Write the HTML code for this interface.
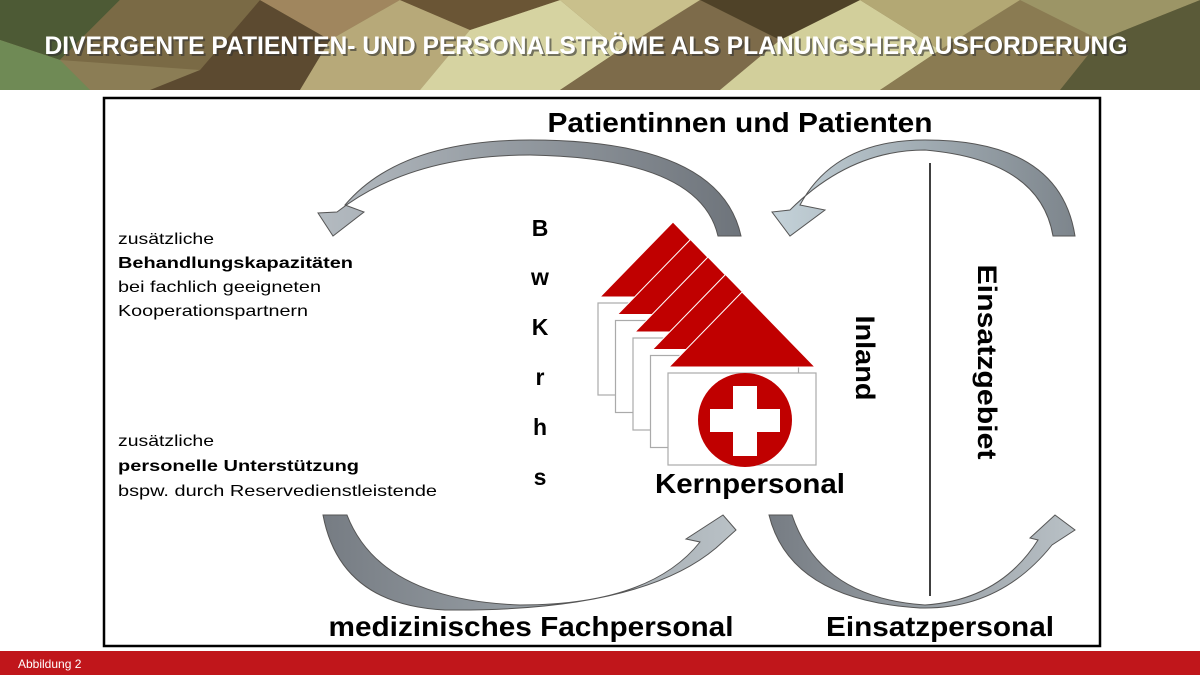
<!DOCTYPE html>
<html><head><meta charset="utf-8"><style>
body{margin:0;width:1200px;height:675px;overflow:hidden;background:#fff;font-family:"Liberation Sans",sans-serif}
</style></head><body>
<svg width="1200" height="675" viewBox="0 0 1200 675" xmlns="http://www.w3.org/2000/svg" font-family="Liberation Sans, sans-serif">
<defs>
<linearGradient id="g1" x1="1" y1="0" x2="0" y2="0"><stop offset="0" stop-color="#6e747b"/><stop offset="1" stop-color="#b4bbc1"/></linearGradient>
<linearGradient id="g2" x1="0" y1="0" x2="1" y2="0"><stop offset="0" stop-color="#c4d2d9"/><stop offset="1" stop-color="#7d858c"/></linearGradient>
<linearGradient id="g3" x1="0" y1="0" x2="1" y2="0"><stop offset="0" stop-color="#767c83"/><stop offset="1" stop-color="#b9c1c6"/></linearGradient>
</defs>
<rect x="0" y="0" width="1200" height="90" fill="#8b7d55"/>
<polygon points="0,0 120,0 60,60 0,40" fill="#4d5a35"/>
<polygon points="0,40 60,60 90,90 0,90" fill="#6f8a55"/>
<polygon points="120,0 260,0 200,70 60,60" fill="#7a6a45"/>
<polygon points="200,70 260,0 330,40 300,90 150,90" fill="#5c4a30"/>
<polygon points="260,0 400,0 330,40" fill="#a0865e"/>
<polygon points="330,40 400,0 470,30 420,90 300,90" fill="#b7a979"/>
<polygon points="470,30 560,0 620,50 560,90 420,90" fill="#d6d3a1"/>
<polygon points="400,0 560,0 470,30" fill="#6a5535"/>
<polygon points="620,50 700,0 780,40 720,90 560,90" fill="#7d6b4a"/>
<polygon points="560,0 700,0 620,50" fill="#c9c08c"/>
<polygon points="780,40 860,0 940,50 880,90 720,90" fill="#d2cf9b"/>
<polygon points="700,0 860,0 780,40" fill="#4f4228"/>
<polygon points="940,50 1020,0 1100,40 1060,90 880,90" fill="#8a7b52"/>
<polygon points="860,0 1020,0 940,50" fill="#b3a874"/>
<polygon points="1100,40 1200,0 1200,90 1060,90" fill="#5a5a38"/>
<polygon points="1020,0 1200,0 1100,40" fill="#9c9566"/>
<text x="588" y="56" text-anchor="middle" font-size="25" font-weight="bold" fill="#333" opacity="0.6" textLength="1083" lengthAdjust="spacingAndGlyphs">DIVERGENTE PATIENTEN- UND PERSONALSTRÖME ALS PLANUNGSHERAUSFORDERUNG</text>
<text x="586" y="54" text-anchor="middle" font-size="25" font-weight="bold" fill="#fff" textLength="1083" lengthAdjust="spacingAndGlyphs">DIVERGENTE PATIENTEN- UND PERSONALSTRÖME ALS PLANUNGSHERAUSFORDERUNG</text>
<rect x="104" y="98" width="996" height="548" fill="#fff" stroke="#000" stroke-width="2.5"/>
<rect x="0" y="651" width="1200" height="24" fill="#c0161b"/>
<text x="18" y="668" font-size="12" fill="#fff">Abbildung 2</text>
<path d="M741,236 Q720,140 530,140 Q400,140 345,205 L364,212 L333,236 L318,213 L337,212 Q410,155 530,155 Q700,158 718,236 Z" fill="url(#g1)" stroke="#555" stroke-width="1"/>
<path d="M1075,236 Q1060,140 925,140 Q835,140 800,205 L825,210 L790,236 L772,212 L790,210 Q850,150 925,150 Q1040,160 1053,236 Z" fill="url(#g2)" stroke="#555" stroke-width="1"/>
<path d="M323,515 L347,515 Q380,600 520,605 Q650,605 700,542 L686,539 L723,515 L736,530 L716,548 Q640,612 445,610 Q340,605 323,515 Z" fill="url(#g3)" stroke="#555" stroke-width="1"/>
<path d="M769,515 L792,515 Q820,598 925,605 Q1000,600 1038,540 L1030,538 L1055,515 L1075,530 L1052,545 Q1000,610 920,608 Q790,600 769,515 Z" fill="url(#g3)" stroke="#555" stroke-width="1"/>
<line x1="930" y1="163" x2="930" y2="596" stroke="#000" stroke-width="1.5"/>
<g id="h">
<rect x="598" y="303" width="148" height="92" fill="#fff" stroke="#aaa" stroke-width="1.2"/>
<polygon points="673,222 746,297 600,297" fill="#c00000" stroke="#fff" stroke-width="1"/>
</g>
<use href="#h" transform="translate(17.5,17.5)"/>
<use href="#h" transform="translate(35,35)"/>
<use href="#h" transform="translate(52.5,52.5)"/>
<rect x="668" y="373" width="148" height="92" fill="#fff" stroke="#aaa" stroke-width="1.2"/>
<polygon points="742,292 815,367 669,367" fill="#c00000" stroke="#fff" stroke-width="1"/>
<circle cx="745" cy="420" r="47" fill="#c00000"/>
<rect x="710" y="409" width="70" height="23" fill="#fff"/>
<rect x="733" y="386" width="24" height="70" fill="#fff"/>
<g font-weight="bold" fill="#000">
<text x="740" y="132" text-anchor="middle" font-size="28" textLength="385" lengthAdjust="spacingAndGlyphs">Patientinnen und Patienten</text>
<text x="531" y="636" text-anchor="middle" font-size="28" textLength="405" lengthAdjust="spacingAndGlyphs">medizinisches Fachpersonal</text>
<text x="940" y="636" text-anchor="middle" font-size="28" textLength="228" lengthAdjust="spacingAndGlyphs">Einsatzpersonal</text>
<text x="750" y="493" text-anchor="middle" font-size="28" textLength="190" lengthAdjust="spacingAndGlyphs">Kernpersonal</text>
<text transform="translate(856,358) rotate(90)" text-anchor="middle" font-size="27" textLength="85" lengthAdjust="spacingAndGlyphs">Inland</text>
<text transform="translate(978,362) rotate(90)" text-anchor="middle" font-size="27" textLength="195" lengthAdjust="spacingAndGlyphs">Einsatzgebiet</text>
<g font-size="23" text-anchor="middle">
<text x="540" y="236">B</text><text x="540" y="285">w</text><text x="540" y="335">K</text><text x="540" y="385">r</text><text x="540" y="435">h</text><text x="540" y="485">s</text>
</g>
</g>
<g font-size="16" fill="#000">
<text x="118" y="244" textLength="96" lengthAdjust="spacingAndGlyphs">zusätzliche</text>
<text x="118" y="268" font-weight="bold" textLength="235" lengthAdjust="spacingAndGlyphs">Behandlungskapazitäten</text>
<text x="118" y="292" textLength="203" lengthAdjust="spacingAndGlyphs">bei fachlich geeigneten</text>
<text x="118" y="316" textLength="190" lengthAdjust="spacingAndGlyphs">Kooperationspartnern</text>
<text x="118" y="446" textLength="96" lengthAdjust="spacingAndGlyphs">zusätzliche</text>
<text x="118" y="471" font-weight="bold" textLength="241" lengthAdjust="spacingAndGlyphs">personelle Unterstützung</text>
<text x="118" y="496" textLength="319" lengthAdjust="spacingAndGlyphs">bspw. durch Reservedienstleistende</text>
</g>
</svg>
</body></html>
